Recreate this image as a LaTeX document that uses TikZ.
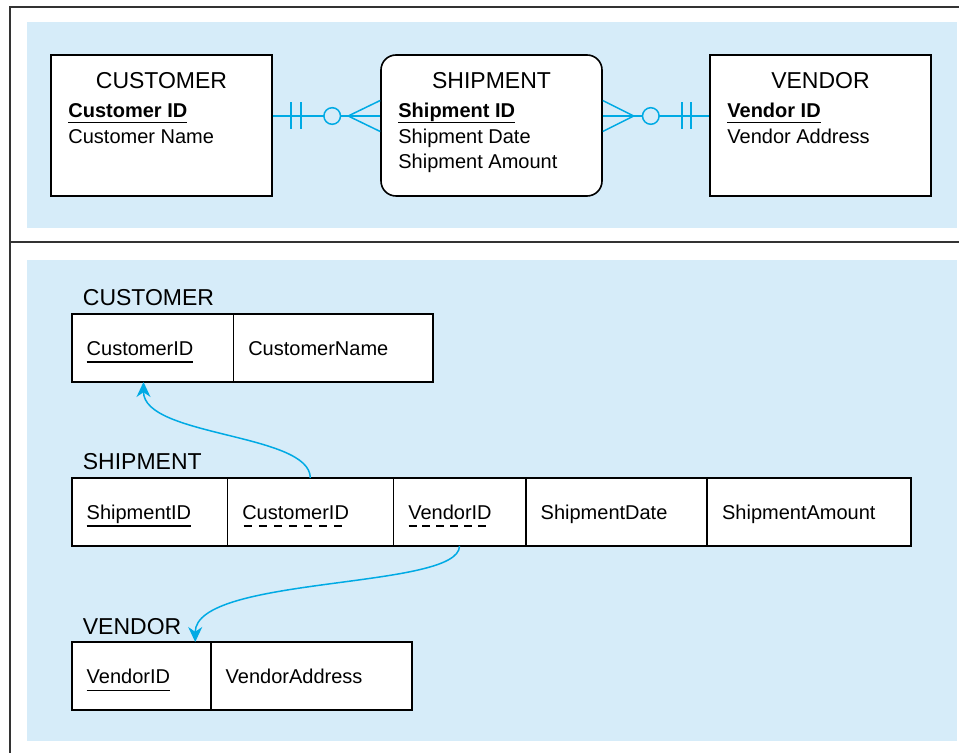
\documentclass[tikz,border=0pt]{standalone}
\usepackage{fontspec}
\setmainfont{Liberation Sans}
\usetikzlibrary{arrows.meta,calc,positioning}
\definecolor{panelblue}{RGB}{214,236,249}
\definecolor{linkblue}{RGB}{0,170,228}
\newsavebox\keybox
\newcommand{\pkline}[2][3.6pt]{%
    \sbox\keybox{#2}\rlap{\rule[-#1]{\wd\keybox}{0.75pt}}\usebox\keybox}
\newcommand{\fkline}[1]{%
    \sbox\keybox{#1}%
    \rlap{\raisebox{-3.5pt}{\hbox to \wd\keybox{%
        \xleaders\hbox to 6.8pt{\rule{4pt}{0.65pt}\hss}\hfill}}}%
    \usebox\keybox}
\tikzset{
    er diagram/.style  = {x=0.5pt, y=-0.5pt,
                          >={Stealth[length=7.5pt, width=7pt, inset=2.4pt]}},
    frame/.style       = {draw=black!80, line width=1pt},
    panel/.style       = {fill=panelblue},
    entity/.style      = {draw, line width=0.8pt, fill=white, inner sep=0pt,
                          minimum width=110.5pt, minimum height=70.5pt},
    weak entity/.style = {entity, rounded corners=7.5pt},
    title/.style       = {font=\fontsize{11.5}{13}\selectfont,
                          anchor=base, inner sep=0pt},
    attr/.style        = {font=\fontsize{10}{12}\selectfont,
                          anchor=base west, inner sep=0pt},
    rel/.style         = {draw=linkblue, line width=0.75pt},
    link/.style        = {->, draw=linkblue, line width=0.75pt},
    tlabel/.style      = {font=\fontsize{11.5}{13}\selectfont,
                          anchor=base west, inner sep=0pt},
    cell/.style        = {draw, line width=0.8pt, fill=white, outer sep=0pt,
                          minimum width=#1, minimum height=34pt,
                          inner xsep=7.5pt, inner ysep=0pt,
                          /utils/exec={\pgfmathsetlengthmacro\cellw{#1-15pt}},
                          text width=\cellw, align=left,
                          text height=7.8pt, text depth=0pt,
                          font=\fontsize{10}{12}\selectfont}
}

\begin{document}
\begin{tikzpicture}[er diagram]
\useasboundingbox (0,0) rectangle (959,753);

% Backgrounds and frame.
\fill[panel] (27,22) rectangle (957,228);
\fill[panel] (27,260) rectangle (957,741);
\draw[frame] (959,7) -- (9.5,7) -- (9.5,753);
\draw[frame] (9.5,242.5) -- (959,242.5);

% E-R diagram: two strong entities and the associative entity.
\node[entity] (cust) at (161.5,125.5) {};
\node[title] (cust-title) at (161.5,89) {CUSTOMER};
\node[attr] (cust-id) at (68,118) {\bfseries\pkline[2.7pt]{Customer ID}};
\node[attr] (cust-nm) at (68,144) {Customer Name};

\node[weak entity] (ship) at (491.5,125.5) {};
\node[title] (ship-title) at (491.5,89) {SHIPMENT};
\node[attr] (ship-id) at (398,118) {\bfseries\pkline[2.7pt]{Shipment ID}};
\node[attr] (ship-dt) at (398,143.5) {Shipment Date};
\node[attr] (ship-am) at (398,169) {Shipment Amount};

\node[entity] (vend) at (820.5,125.5) {};
\node[title] (vend-title) at (820.5,89) {VENDOR};
\node[attr] (vend-id) at (727,118) {\bfseries\pkline[2.7pt]{Vendor ID}};
\node[attr] (vend-ad) at (727,144) {Vendor Address};

\coordinate (r1-a) at ([yshift=4.75pt]cust.east);
\coordinate (r1-b) at ([yshift=4.75pt]ship.west);
\draw[rel] (r1-a) -- (r1-b);
\draw[rel] ($(r1-a)+(18,-13.5)$) -- ++(0,27);
\draw[rel] ($(r1-a)+(28,-13.5)$) -- ++(0,27);
\draw[rel, fill=panelblue] ($(r1-b)+(-48,0)$) circle[radius=4.15pt];
\draw[rel] ($(r1-b)+(0,-15.5)$) -- ($(r1-b)+(-32,0)$) -- ($(r1-b)+(0,15.5)$);

\coordinate (r2-a) at ([yshift=4.75pt]ship.east);
\coordinate (r2-b) at ([yshift=4.75pt]vend.west);
\draw[rel] (r2-a) -- (r2-b);
\draw[rel] ($(r2-a)+(0,-15.5)$) -- ($(r2-a)+(31,0)$) -- ($(r2-a)+(0,15.5)$);
\draw[rel, fill=panelblue] ($(r2-a)+(48,0)$) circle[radius=4.15pt];
\draw[rel] ($(r2-b)+(-27,-13.5)$) -- ++(0,27);
\draw[rel] ($(r2-b)+(-18,-13.5)$) -- ++(0,27);

% Relations with keys and referential integrity.
\node[tlabel] (cust-tab) at (82.5,306) {CUSTOMER};
\node[cell=80.8pt, anchor=north west] (cust-key) at (71.7,314) {\pkline{CustomerID}};
\node[cell=99.7pt, right=0pt of cust-key] (cust-name) {CustomerName};

\node[tlabel] (ship-tab) at (82.5,470) {SHIPMENT};
\node[cell=77.8pt, anchor=north west] (ship-key) at (71.7,478) {\pkline{ShipmentID}};
\node[cell=83pt, right=0pt of ship-key] (ship-cust) {\fkline{CustomerID}};
\node[cell=66.2pt, right=0pt of ship-cust] (ship-vend) {\fkline{VendorID}};
\node[cell=90.7pt, right=0pt of ship-vend] (ship-date) {ShipmentDate};
\node[cell=102pt, right=0pt of ship-date] (ship-amount) {ShipmentAmount};

\node[tlabel] (vend-tab) at (82.5,634) {VENDOR};
\node[cell=69.5pt, anchor=north west] (vend-key) at (71.7,642) {\pkline{VendorID}};
\node[cell=100.5pt, right=0pt of vend-key] (vend-addr) {VendorAddress};

\draw[link] (ship-cust.north) .. controls +(0,-45) and +(0,55) .. ([xshift=-4.5pt]cust-key.south);
\draw[link] (ship-vend.south) .. controls +(0,44) and +(0,-67) .. ([xshift=27pt]vend-key.north);

\end{tikzpicture}
\end{document}
